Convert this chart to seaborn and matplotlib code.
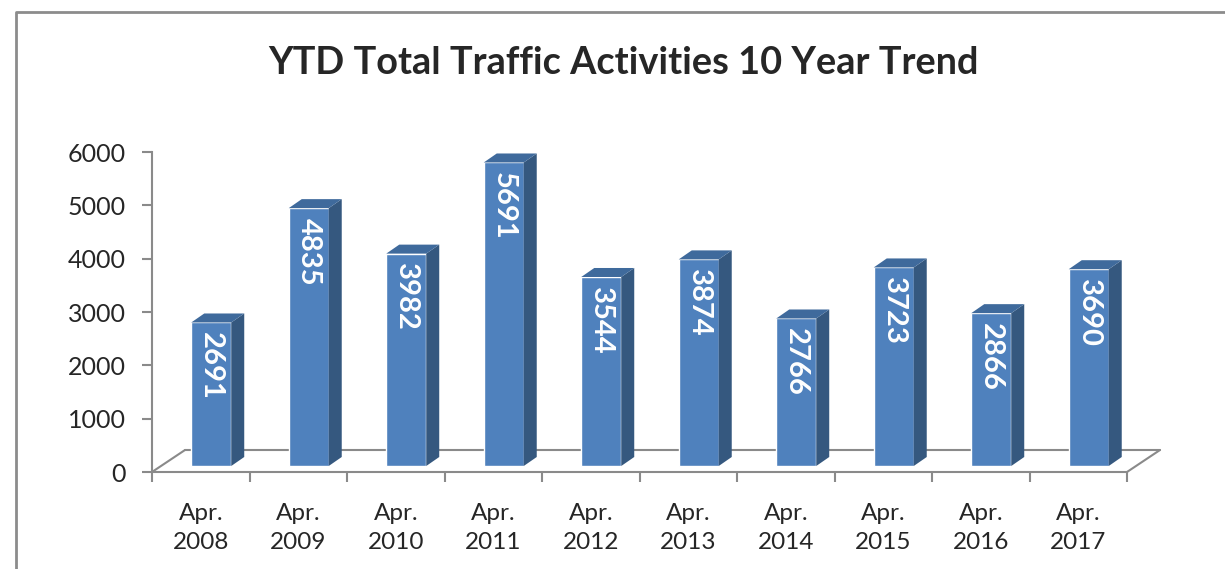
import matplotlib
matplotlib.use("Agg")
import matplotlib.pyplot as plt
import matplotlib.transforms as mtransforms
from matplotlib.patches import Polygon
import pandas as pd
import seaborn as sns

# data
periods = ["Apr.\n2008", "Apr.\n2009", "Apr.\n2010", "Apr.\n2011", "Apr.\n2012",
           "Apr.\n2013", "Apr.\n2014", "Apr.\n2015", "Apr.\n2016", "Apr.\n2017"]
activities = [2691, 4835, 3982, 5691, 3544, 3874, 2766, 3723, 2866, 3690]
y_ticks = [0, 1000, 2000, 3000, 4000, 5000, 6000]

df = pd.DataFrame({"period": periods, "activities": activities})

FRONT = "#4F81BD"
SIDE = "#35587F"
TOP = "#3F6A9C"
AXIS = "#8A8A8A"
FONT = ["Lato", "DejaVu Sans"]

sns.set_style("white")
plt.rcParams["font.family"] = FONT

fig = plt.figure(figsize=(12.25, 5.69), dpi=100)
ax = fig.add_axes([152 / 1225, 97 / 569, 975 / 1225, 320 / 569])

sns.barplot(data=df, x="period", y="activities", color=FRONT, width=0.41,
            saturation=1, ax=ax, zorder=3)
ax.set_xlim(-0.5, len(periods) - 0.5)
ax.set_ylim(0, 6000)

# pixel offsets for the fake 3d look
px = 1 / fig.dpi
bar_shift = ax.transData + mtransforms.ScaledTranslation(10.5 * px, 6 * px, fig.dpi_scale_trans)
floor_shift = ax.transData + mtransforms.ScaledTranslation(33 * px, 22 * px, fig.dpi_scale_trans)
ppx = 975 / len(periods)        # pixels per category
ppy = 320 / 6000                # pixels per unit
dx, dy = 13 / ppx, 9 / ppy      # bar depth in data units

# floor of the 3d box
ax.plot([-0.5, len(periods) - 0.5], [0, 0], color=AXIS, lw=1.5,
        transform=floor_shift, clip_on=False, zorder=1)
for xe in [-0.5, len(periods) - 0.5]:
    ax.plot([xe, xe + 33 / ppx], [0, 22 / ppy], color=AXIS, lw=1.5, clip_on=False, zorder=1)

for bar, val in zip(ax.patches, activities):
    bar.set_transform(bar_shift)
    bar.set_clip_on(False)
    x0, w, h = bar.get_x(), bar.get_width(), bar.get_height()
    side = Polygon([(x0 + w, 0), (x0 + w + dx, dy), (x0 + w + dx, h + dy), (x0 + w, h)],
                   closed=True, facecolor=SIDE, edgecolor="none", transform=bar_shift,
                   clip_on=False, zorder=3)
    top = Polygon([(x0, h), (x0 + dx, h + dy), (x0 + w + dx, h + dy), (x0 + w, h)],
                  closed=True, facecolor=TOP, edgecolor="none", transform=bar_shift,
                  clip_on=False, zorder=3)
    ax.add_patch(side)
    ax.add_patch(top)
    ax.annotate(f"{val}", xy=(x0 + w / 2, h), xycoords=bar_shift,
                xytext=(0, -7), textcoords="offset points", rotation=-90,
                ha="center", va="top", color="white", fontsize=21,
                fontweight="bold", zorder=5)

# axes styling
for s in ["top", "right"]:
    ax.spines[s].set_visible(False)
for s in ["left", "bottom"]:
    ax.spines[s].set_color(AXIS)
    ax.spines[s].set_linewidth(1.5)

ax.set_yticks(y_ticks)
ax.set_yticklabels([str(t) for t in y_ticks])
ax.tick_params(axis="y", length=7, width=1.5, color=AXIS, pad=12, labelsize=18,
               direction="out", left=True)
ax.set_xticks(range(len(periods)))
ax.set_xticklabels(periods, linespacing=1.5)
ax.set_xticks([i - 0.5 for i in range(len(periods) + 1)], minor=True)
ax.tick_params(axis="x", which="major", length=0, pad=22, labelsize=17.5)
ax.tick_params(axis="x", which="minor", length=7, width=1.5, color=AXIS, direction="out", bottom=True)
ax.set_xlabel("")
ax.set_ylabel("")

fig.text(0.509, 0.889, "YTD Total Traffic Activities 10 Year Trend", ha="center",
         va="center", fontsize=27.3, fontweight="bold")

# chart frame border
fig.add_artist(plt.Line2D([16 / 1225, 16 / 1225, 1], [0, 557 / 569, 557 / 569],
                          color="#8C8C8C", lw=2, transform=fig.transFigure))

fig.savefig("out.png", dpi=100)
